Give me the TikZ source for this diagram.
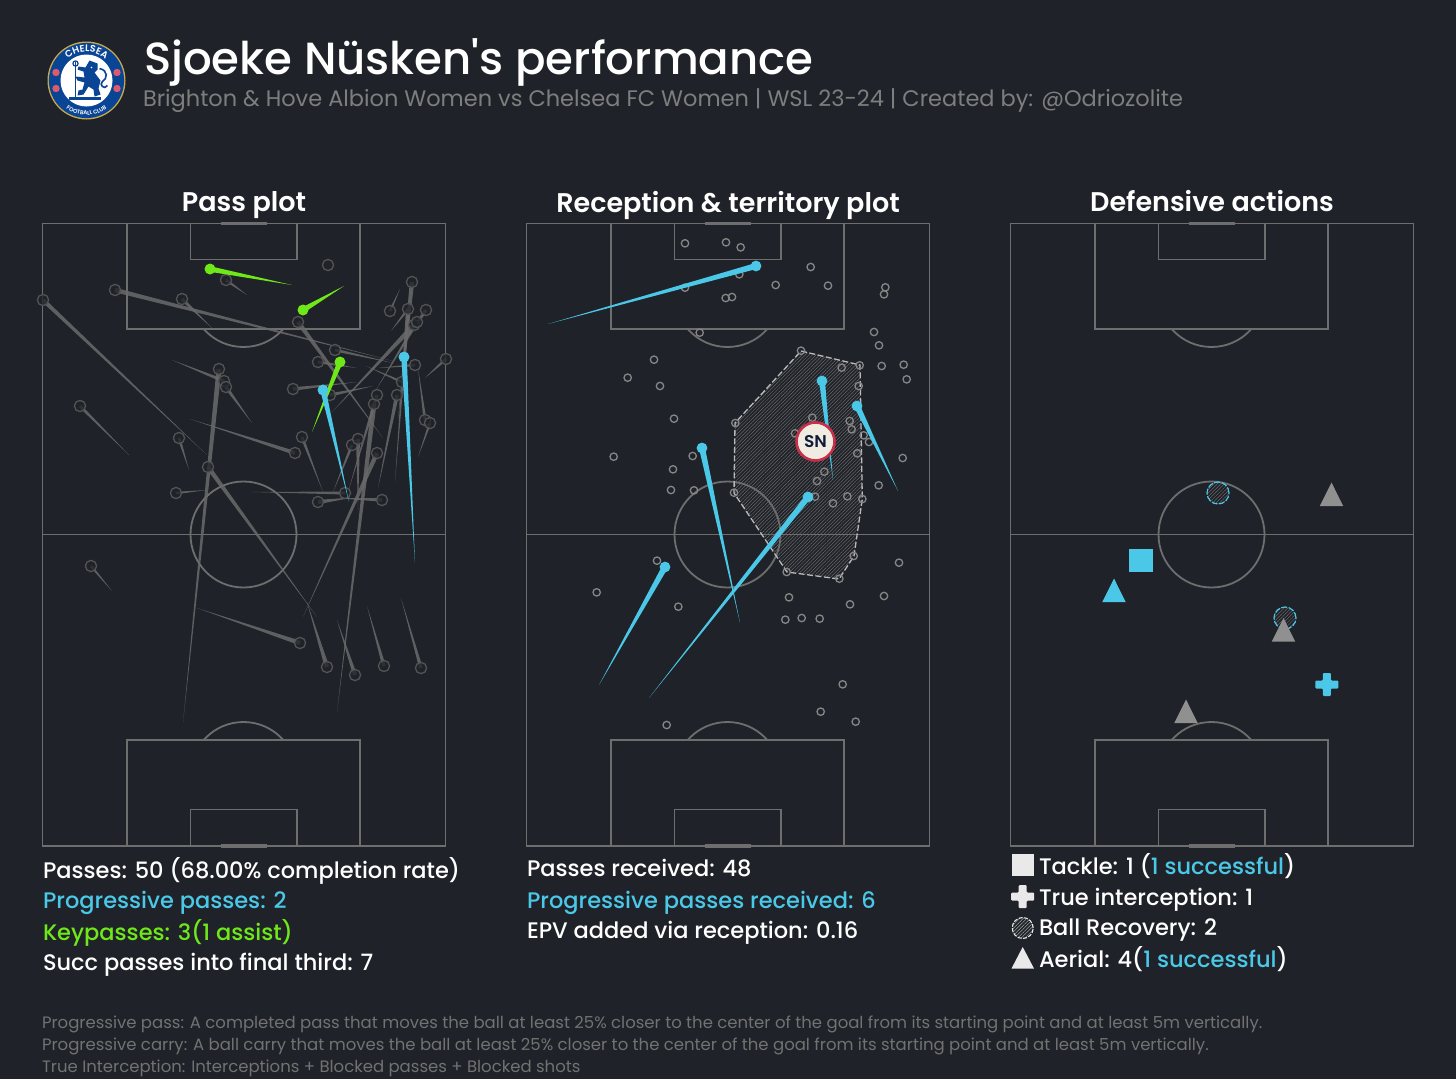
\documentclass[tikz,border=0pt]{standalone}
\usepackage{fontspec}
\setmainfont{Poppins}
\newfontfamily\popmed{Poppins Medium}
\newfontfamily\popsemi{Poppins SemiBold}
\usetikzlibrary{patterns.meta,decorations.text}
\definecolor{bgdark}{HTML}{1F2228}
\definecolor{pitchline}{HTML}{6E6E6E}
\definecolor{subgrey}{HTML}{7E7E7E}
\definecolor{footgrey}{HTML}{727272}
\definecolor{accblue}{HTML}{4BC8E8}
\definecolor{accgreen}{HTML}{6FE81A}
\definecolor{passgrey}{HTML}{6A6A6A}
\definecolor{hatchgrey}{HTML}{696969}
\definecolor{markgrey}{HTML}{909090}
\definecolor{ringgrey}{HTML}{868686}
\definecolor{crestblue}{HTML}{0A4595}
\definecolor{crestgold}{HTML}{C9A94E}
\definecolor{crestred}{HTML}{DB5A6E}
\definecolor{snred}{HTML}{C8304A}
\definecolor{sncream}{HTML}{F1ECE2}
\definecolor{snnavy}{HTML}{101C3A}
\definecolor{iconwhite}{HTML}{E9E9E9}
\tikzset{
  pitchstroke/.style={draw=pitchline,line width=1.8pt},
  txt/.style={anchor=base west,inner sep=0pt,outer sep=0pt,text=white},
  headtxt/.style={anchor=base,inner sep=0pt,outer sep=0pt,text=white,font=\popsemi\fontsize{27}{30}\selectfont},
  stat/.style={txt,font=\popmed\fontsize{22.5}{28}\selectfont},
  footn/.style={txt,text=footgrey,font=\fontsize{16.5}{20}\selectfont},
  hollowhead/.style={draw=passgrey!115,line width=1.3pt,fill=bgdark,fill opacity=.75},
  smallring/.style={draw=ringgrey,line width=1.3pt},
  hatchfill/.style={pattern={Lines[angle=45,distance=2.5pt,line width=.5pt]},pattern color=#1},
}
\newcommand{\wedgeline}[6]{%
  \pgfmathsetmacro\wdx{#3-(#1)}%
  \pgfmathsetmacro\wdy{#4-(#2)}%
  \pgfmathsetmacro\wlen{100*veclen(\wdx/100,\wdy/100)}%
  \pgfmathsetmacro\wnx{-\wdy/\wlen*#5/2}%
  \pgfmathsetmacro\wny{\wdx/\wlen*#5/2}%
  \fill[#6] ({#1+\wnx},{#2+\wny}) -- (#3,#4) -- ({#1-\wnx},{#2-\wny}) -- cycle;%
}
\newcommand{\pitch}[1]{%
  \begin{scope}[shift={(#1,0)}]
    \begin{scope}
      \clip (42,329) rectangle (445,360);
      \draw[pitchstroke] (243.5,294) circle[radius=53pt];
    \end{scope}
    \begin{scope}
      \clip (42,700) rectangle (445,740);
      \draw[pitchstroke] (243.5,775) circle[radius=53pt];
    \end{scope}
    \draw[pitchstroke] (42.5,223.5) rectangle (445.5,846);
    \draw[pitchstroke] (42.5,534.5) -- (445.5,534.5);
    \draw[pitchstroke] (243.5,534.5) circle[radius=53pt];
    \draw[pitchstroke] (127,223.5) rectangle (360,329);
    \draw[pitchstroke] (190.5,223.5) rectangle (297,259.5);
    \draw[pitchstroke] (127,846) rectangle (360,740);
    \draw[pitchstroke] (190.5,846) rectangle (297,809.5);
    \draw[draw=pitchline,line width=3.5pt] (221,223.7) -- (267,223.7);
    \draw[draw=pitchline,line width=3.5pt] (221,845.8) -- (267,845.8);
  \end{scope}%
}
\newcommand{\uptri}[3]{\fill[#3] (#1,#2-12) -- (#1+11.7,#2+11.5) -- (#1-11.7,#2+11.5) -- cycle;}
\newcommand{\crossmark}[3]{\fill[#3,rounded corners=1pt] (#1-4,#2-11.5) -- (#1+4,#2-11.5) -- (#1+4,#2-4) -- (#1+11.5,#2-4) -- (#1+11.5,#2+4) -- (#1+4,#2+4) -- (#1+4,#2+11.5) -- (#1-4,#2+11.5) -- (#1-4,#2+4) -- (#1-11.5,#2+4) -- (#1-11.5,#2-4) -- (#1-4,#2-4) -- cycle;}
\begin{document}
\begin{tikzpicture}[x=1pt,y=-1pt]
\useasboundingbox (0,0) rectangle (1456,1079);
\fill[bgdark] (0,0) rectangle (1456,1079);

% ---- crest
\begin{scope}[shift={(86.5,80.5)},x=1pt,y=1pt]
  \fill[crestgold] (0,0) circle[radius=39pt];
  \fill[crestblue] (0,0) circle[radius=37.6pt];
  \fill[white] (0,0) circle[radius=26pt];
  \foreach \rx/\ry in {-30.5/8,30.5/8,-30.5/-8,30.5/-8}{
    \fill[crestred] (\rx,\ry) circle[radius=3.7pt];
  }
  \path[decorate,decoration={text along path,text align=center,
    text={|\popsemi\fontsize{9.5}{10}\selectfont\color{white}|CHELSEA}}]
    (152:28.5) arc[start angle=152,end angle=28,radius=28.5pt];
  \path[decorate,decoration={text along path,text align=center,
    text={|\popsemi\fontsize{5.6}{6}\selectfont\color{white}|FOOTBALL CLUB}}]
    (212:34.5) arc[start angle=212,end angle=328,radius=34.5pt];
  % lion and staff
  \draw[crestblue,line width=1.3pt] (-11,19) -- (-11,-19);
  \draw[crestblue,line width=1.2pt] (-11,17) circle[radius=2.6pt];
  \fill[crestblue] (-18,-19) rectangle (14,-16.4);
  \fill[crestblue] (3,20) -- (11,17) -- (11,11) -- (8,8) -- (14,0) -- (12,-8) -- (14,-14) -- (8,-16) -- (7,-9) -- (2,-6) -- (-3,-14) -- (-9,-15) -- (-8,-10) -- (-4,-9) -- (-2,-2) -- (-9,0) -- (-11,4) -- (-2,3) -- (-3,9) -- (-9,11) -- (-8,14) -- (-1,13) -- cycle;
  \draw[crestblue,line width=1.6pt] (13,12) .. controls (22,10) and (21,2) .. (16,-1) .. controls (12,-4) and (18,-10) .. (21,-5);
  \fill[white] (5,13) circle[radius=.8pt];
\end{scope}

% ---- title block
\node[txt,font=\popmed\fontsize{45.05}{50}\selectfont] (title) at (144,74) {Sjoeke Nüsken's performance};
\node[txt,text=subgrey,font=\fontsize{22.47}{28}\selectfont] (subtitle) at (143,106) {Brighton \& Hove Albion Women vs Chelsea FC Women | WSL 23-24 | Created by: @Odriozolite};
\node[headtxt] (h1) at (244,211) {Pass plot};
\node[headtxt] (h2) at (728,212) {Reception \& territory plot};
\node[headtxt] (h3) at (1212,211) {Defensive actions};

\pitch{0}\pitch{484}\pitch{968}

% ---- pass plot: ordinary passes, head then tip
\foreach \ax/\ay/\bx/\by/\wd in {
  43/300/207/455/4, 115/290/393/361/4.5, 182/299/212/328/3.5, 226/280/247/295/3,
  298/322/383/438/4.5, 335/350/393/363/3, 318/362/357/368/3,
  219/369/183/723/5, 224/381/172/360/3.5, 226/387/252/423/3.5,
  293/389/357/382/3.5, 330/395/373/386/3.5, 80/406/129/455/3, 179/438/189/470/3,
  295/453/190/419/4, 302/437/323/492/3, 208/467/317/617/4.5,
  176/493/207/490/2.5, 345/493/252/492/3, 318/502/350/498/4.5, 382/500/335/498/3.5,
  374/404/337/712/5, 412/282/398/420/4.5, 390/311/400/289/2.5, 408/309/391/331/3,
  408/309/395/482/4, 426/310/402/345/3.5, 414/325/332/412/5, 417/322/376/390/3.5,
  446/359/425/378/3, 415/365/378/368/2.5, 425/420/418/368/3, 430/423/418/457/2.5,
  402/382/366/366/2.5, 397/395/378/488/4, 377/395/348/492/3.5, 377/453/303/617/4.5,
  352/445/333/492/3, 358/439/358/510/4,
  91/566/112/591/2.5, 300/643/197/608/4.5, 327/667/307/602/4.5, 355/675/337/620/4,
  384/666/367/606/3.5, 421/668/401/598/3.5}{
  \wedgeline{\ax}{\ay}{\bx}{\by}{\wd}{passgrey,fill opacity=.85}
}
\foreach \cx/\cy in {43/300,115/290,182/299,226/280,328/265,298/322,335/350,318/362,219/369,224/381,226/387,293/389,330/395,80/406,179/438,295/453,302/437,208/467,176/493,345/493,318/502,382/500,374/404,412/282,390/311,408/309,426/310,414/325,417/322,446/359,415/365,425/420,430/423,402/382,397/395,377/395,377/453,352/445,358/439,91/566,300/643,327/667,355/675,384/666,421/668}{
  \draw[hollowhead] (\cx,\cy) circle[radius=5.6pt];
}
% key passes and progressive passes
\foreach \ax/\ay/\bx/\by in {210/269/292/285,303/310/344/286,340/362/312/432}{
  \wedgeline{\ax}{\ay}{\bx}{\by}{5.5}{accgreen}
  \fill[accgreen] (\ax,\ay) circle[radius=5.5pt];
}
\foreach \ax/\ay/\bx/\by in {323/390/349/502,404/357/415/563}{
  \wedgeline{\ax}{\ay}{\bx}{\by}{5.5}{accblue}
  \fill[accblue] (\ax,\ay) circle[radius=5.5pt];
}

% ---- reception plot
\path[hatchfill=hatchgrey] (801,351) -- (860,365) -- (862.3,499) -- (854,556) -- (839,579) -- (787,572) -- (734,493) -- (735,423) -- cycle;
\draw[draw=iconwhite!80!black,line width=1.3pt,dash pattern=on 6pt off 2.5pt] (801,351) -- (860,365) -- (862.3,499) -- (854,556) -- (839,579) -- (787,572) -- (734,493) -- (735,423) -- cycle;
\foreach \zx/\zy in {495/85,618/82,662/97,658/178,872/156,767/210,924/212,495/218,617/249,636/246,1096/217,1092/238,539/353,1062/351,1077/391,402/434,323/488,420/513,462/611,281/725,518/723,459/763,453/825,522/826,1085/453,1151/449,1160/493,965/458,1019/451,843/407,1016/513,646/624,877/608,825/655,989/618,995/643,1031/661,1047/681,1012/715,1148/729,913/770,891/798,1076/811,642/833,885/845,939/865,982/844,1027/852}{
  \draw[smallring] ({520+\zx/3},{215+\zy/3}) circle[radius=3.7pt];
}
\foreach \zx/\zy in {1137/248,1001/228,800/276,958/296,411/242,230/337,475/380,807/352,990/373,1092/348,796/419,845/414,899/416,968/613,902/695,1007/725,440/735}{
  \draw[smallring] ({520+\zx/3},{480+\zy/3}) circle[radius=3.7pt];
}
\foreach \ax/\ay/\bx/\by in {756/266/548/324,822/381/833/480,857/406/898/491,702/448/740/623,808/497/649/698,665/567/599/685}{
  \wedgeline{\ax}{\ay}{\bx}{\by}{6}{accblue}
  \fill[accblue] (\ax,\ay) circle[radius=5.4pt];
}
\node[circle,minimum size=38pt,inner sep=0pt,draw=snred,line width=2.6pt,fill=sncream,text=snnavy,font=\popsemi\fontsize{17}{20}\selectfont] (sn) at (815.5,441.5) {SN};

% ---- defensive actions
\foreach \cx/\cy in {1218/493,1285/618}{
  \path[hatchfill=hatchgrey] (\cx,\cy) circle[radius=11pt];
  \draw[accblue,line width=1.2pt,dash pattern=on 6pt off 1.5pt] (\cx,\cy) circle[radius=11pt];
}
\uptri{1331.5}{494.5}{markgrey}
\uptri{1283.5}{630}{markgrey}
\uptri{1186}{711.5}{markgrey}
\uptri{1114}{590.5}{accblue}
\fill[accblue] (1129.3,549) rectangle (1152.7,572);
\crossmark{1326.8}{684.5}{accblue}

% ---- stats
\node[stat] (s1) at (43,878) {Passes: 50 (68.00\% completion rate)};
\node[stat,text=accblue] (s2) at (43,908) {Progressive passes: 2};
\node[stat,text=accgreen] (s3) at (43,940) {Keypasses: 3(1 assist)};
\node[stat] (s4) at (43,970) {Succ passes into final third: 7};
\node[stat] (r1) at (527,876) {Passes received: 48};
\node[stat,text=accblue] (r2) at (527,908) {Progressive passes received: 6};
\node[stat] (r3) at (527,938) {EPV added via reception: 0.16};
\fill[iconwhite] (1011.7,853.5) rectangle (1034,876);
\crossmark{1022.7}{896.7}{iconwhite}
\path[hatchfill=iconwhite!70!black] (1022.7,928) circle[radius=10.5pt];
\draw[iconwhite,line width=1.1pt,dash pattern=on 4pt off 1.5pt] (1022.7,928) circle[radius=10.5pt];
\fill[iconwhite] (1022.7,947) -- (1034,968.5) -- (1011.5,968.5) -- cycle;
\node[stat] (d1) at (1039,874) {Tackle: 1 ({\color{accblue}1 successful})};
\node[stat] (d2) at (1039,905) {True interception: 1};
\node[stat] (d3) at (1039,935) {Ball Recovery: 2};
\node[stat] (d4) at (1039,967) {Aerial: 4({\color{accblue}1 successful})};

% ---- footnotes
\node[footn] (f1) at (42,1028) {Progressive pass: A completed pass that moves the ball at least 25\% closer to the center of the goal from its starting point and at least 5m vertically.};
\node[footn] (f2) at (42,1050) {Progressive carry: A ball carry that moves the ball at least 25\% closer to the center of the goal from its starting point and at least 5m vertically.};
\node[footn] (f3) at (42,1072) {True Interception: Interceptions + Blocked passes + Blocked shots};
\end{tikzpicture}
\end{document}
